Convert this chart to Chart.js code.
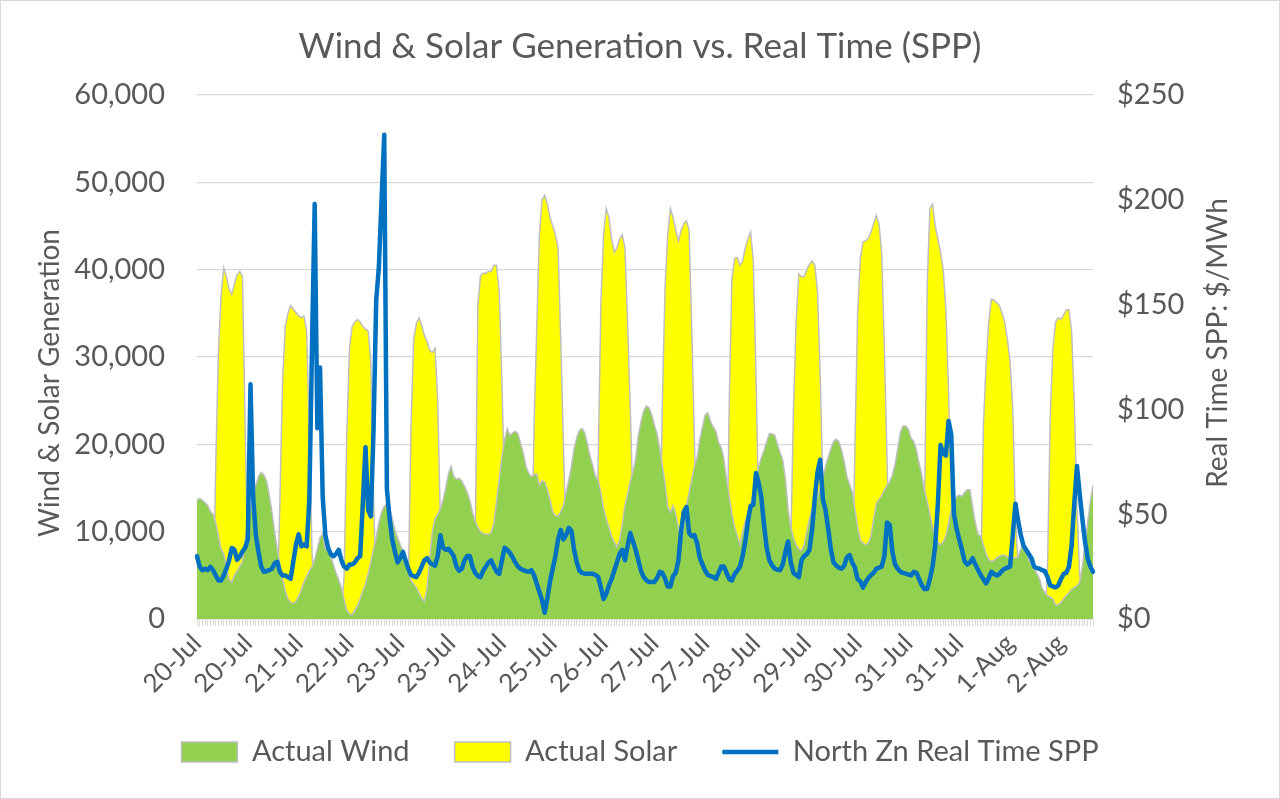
<!DOCTYPE html>
<html lang="en">
<head>
<meta charset="UTF-8">
<title>Wind &amp; Solar Generation vs. Real Time (SPP)</title>
<script src="https://cdn.jsdelivr.net/npm/chart.js@4.4.1/dist/chart.umd.min.js"></script>
<style>
  body { margin: 0; background: #fff; }
  #wrap { width: 1280px; height: 799px; }
</style>
</head>
<body>
<div id="wrap"><canvas id="chart" width="1280" height="799"></canvas></div>
<script>
// one label per day, hourly values below (24 per day)
const days = ['20-Jul', '21-Jul', '22-Jul', '23-Jul', '24-Jul', '25-Jul', '26-Jul',
              '27-Jul', '28-Jul', '29-Jul', '30-Jul', '31-Jul', '1-Aug', '2-Aug'];

// Actual Wind, MW
const windMW = [
  13600, 13800, 13600, 13300, 13000, 12300, 12000, 11000, 9500, 8000, 7500, 6000, 4500, 4200, 5000, 5500, 6000, 6500, 9000, 11000, 12500, 14000, 15300, 16300,
  16800, 16500, 15800, 14200, 12300, 10000, 8000, 6200, 4500, 3200, 2300, 1900, 1800, 2000, 2600, 3300, 4200, 4900, 5500, 6000, 6800, 8000, 9300, 9800,
  8000, 7800, 7200, 6200, 5200, 4500, 3500, 2200, 1000, 600, 500, 1000, 1500, 2300, 3200, 4000, 5200, 6500, 8000, 9300, 11000, 12200, 12900, 13200,
  12800, 11500, 10200, 9300, 8500, 7800, 7200, 5800, 4400, 4000, 3600, 3000, 2400, 2000, 3500, 7000, 10000, 11500, 12000, 12600, 13600, 15000, 16600, 17500,
  16300, 16000, 16100, 15800, 15200, 14500, 13600, 12200, 11200, 10500, 10000, 9800, 9700, 9700, 9900, 11000, 13500, 16000, 18500, 20500, 21800, 21000, 21300, 21500,
  21200, 20100, 19000, 17500, 16700, 16300, 16500, 16600, 15300, 15800, 15700, 14800, 13600, 12300, 11800, 11800, 12300, 13000, 14500, 15900, 17500, 19500, 20800, 21600,
  21800, 21300, 20000, 18600, 17500, 16300, 15900, 14500, 12600, 11500, 10500, 9500, 8800, 8300, 9000, 10800, 13000, 14300, 15800, 16800, 18300, 21000, 22600, 23800,
  24400, 24200, 23400, 22200, 21200, 19500, 17500, 15500, 12800, 12200, 13000, 12000, 10500, 9000, 10500, 13000, 14500, 16000, 17500, 18500, 20500, 22000, 23400, 23600,
  22600, 22000, 21500, 20200, 19600, 18300, 16000, 14000, 12000, 10500, 9500, 8500, 10000, 11200, 12000, 13000, 14500, 16000, 17500, 18500, 19300, 20300, 21200, 21200,
  21000, 20000, 19100, 18200, 16000, 12500, 10500, 9300, 8500, 8000, 7800, 8500, 10000, 11500, 12500, 13300, 14000, 15000, 16200, 17500, 18500, 19500, 20300, 20600,
  20300, 19300, 18000, 16300, 15400, 14500, 12500, 10500, 9000, 8700, 8500, 8700, 9500, 11500, 13200, 13700, 14100, 14800, 15300, 15700, 16500, 17700, 19500, 21400,
  22100, 22100, 21700, 20700, 20300, 19300, 17800, 16500, 14600, 13500, 12000, 10500, 9500, 8800, 8500, 8800, 9500, 11000, 12500, 13500, 14000, 14200, 14000, 14500,
  14800, 14800, 12800, 11000, 9700, 9500, 8500, 7500, 6800, 6600, 6700, 7000, 7200, 7300, 7300, 7100, 7000, 7000, 7000, 7100, 8000, 8500, 7800, 6800,
  6200, 5800, 5200, 4600, 3500, 3000, 2700, 2500, 2300, 1600, 1600, 1900, 2300, 2700, 3000, 3400, 3600, 3800, 4200, 6000, 8500, 11000, 13500, 15300
];

// Actual Solar, MW
const solarMW = [
  0, 0, 0, 0, 0, 0, 500, 17500, 30400, 37000, 40200, 39200, 37800, 37200, 38400, 39400, 39800, 39200, 22000, 6000, 1000, 0, 0, 0,
  0, 0, 0, 0, 0, 0, 1000, 13600, 27300, 33500, 35000, 35900, 35500, 35100, 34700, 34500, 34700, 33000, 21400, 7700, 2000, 0, 0, 0,
  0, 0, 0, 0, 0, 0, 500, 5000, 21000, 31000, 33500, 34000, 34300, 34000, 33500, 33200, 33000, 29500, 14000, 3000, 500, 0, 0, 0,
  0, 0, 0, 0, 0, 0, 0, 3000, 22000, 32000, 33800, 34500, 33600, 32500, 31800, 30800, 30500, 31000, 25000, 11000, 2000, 0, 0, 0,
  0, 0, 0, 0, 0, 0, 0, 0, 8000, 36000, 39300, 39600, 39600, 39800, 39800, 40500, 40500, 37500, 27000, 15000, 3000, 0, 0, 0,
  0, 0, 0, 0, 0, 3000, 22000, 33000, 44000, 48000, 48500, 47500, 46000, 45000, 44000, 42500, 32000, 20000, 8000, 1000, 0, 0, 0, 0,
  0, 0, 0, 0, 0, 5000, 18000, 36000, 44000, 47000, 46000, 43500, 42000, 42500, 43500, 44000, 42500, 34000, 24000, 13000, 4000, 0, 0, 0,
  0, 0, 0, 0, 0, 5000, 25000, 38000, 44000, 47000, 46000, 44500, 43300, 44500, 45300, 45600, 44500, 33000, 20000, 7000, 1000, 0, 0, 0,
  0, 0, 0, 0, 0, 0, 3000, 25000, 39000, 41300, 41400, 40500, 41000, 42500, 43500, 44300, 41000, 28000, 12000, 3000, 0, 0, 0, 0,
  0, 0, 0, 0, 0, 1000, 8000, 24000, 34000, 39500, 39200, 39200, 40000, 40600, 41000, 40500, 37500, 28000, 15000, 4000, 0, 0, 0, 0,
  0, 0, 0, 0, 0, 3000, 20000, 35000, 41300, 43200, 43300, 43600, 44300, 45300, 46200, 45200, 42000, 31000, 18000, 7000, 1000, 0, 0, 0,
  0, 0, 0, 0, 0, 0, 0, 2000, 12000, 38000, 47000, 47500, 45000, 43500, 42000, 40000, 35500, 26000, 15000, 5000, 0, 0, 0, 0,
  0, 0, 0, 0, 1000, 4000, 22000, 29000, 34000, 36600, 36500, 36200, 35900, 35000, 34000, 32000, 29500, 24000, 12000, 6000, 1000, 0, 0, 0,
  0, 0, 0, 0, 0, 0, 6000, 23000, 31000, 34000, 34500, 34300, 34800, 35400, 35400, 33000, 25000, 13000, 5000, 4000, 3500, 2000, 500, 0
];

// North Zn Real Time SPP, $/MWh
const priceRT = [
  30, 25, 23.3, 24, 23.3, 24.9, 23.3, 20.8, 18.4, 18.4, 20.8, 24, 28, 33.9, 33, 28.2, 29.8, 32.2, 34, 38, 112, 58, 40, 32,
  25, 22.5, 22.8, 23.3, 24, 26.5, 27.3, 22.5, 20.8, 20.8, 20, 19.2, 27.3, 35.5, 40.4, 34.7, 35.5, 34.7, 56.6, 130, 198, 91, 120, 58,
  40, 34, 31, 30, 31, 33, 28, 25, 24, 26, 26, 27, 29, 30, 55, 82, 52, 49, 90, 152, 168, 200, 231, 62,
  48, 38, 32, 27, 29, 32, 28, 24, 21, 20.5, 20, 22, 25, 28, 29, 27, 26, 25.5, 30, 40, 34, 33, 33.5, 32,
  30, 25, 23, 24, 28, 30, 30, 25, 22, 20.5, 20, 23, 25, 27, 28, 25, 22.5, 21.5, 28, 34, 33, 31.5, 29.5, 27,
  25, 24, 23.3, 22.8, 22.5, 23.3, 21, 17, 13, 9, 3, 10, 18, 24, 30, 38, 42.5, 38, 40, 43.5, 42, 33, 27, 23,
  22, 21.6, 21.6, 21.6, 21.6, 21, 20, 15, 9.5, 12, 16, 19, 23, 27, 31, 33, 28, 35, 41, 37, 33, 28, 23, 20,
  18.5, 17.6, 17.6, 17.6, 19.5, 22.5, 22, 19.2, 15.5, 15.5, 20.5, 22, 28, 42, 51, 53.4, 41, 39.5, 40, 36, 29, 26, 23, 21,
  20.5, 20, 19.2, 22, 25, 25, 22, 19, 18.4, 21.5, 23, 25, 30, 37, 47, 54, 54.5, 69.7, 65, 58, 45, 34, 28, 25.7,
  24, 23.5, 23.3, 26, 32, 37, 27, 22, 21, 20, 28, 30, 31, 33, 43, 58, 70, 76, 57, 52, 43, 33, 27, 25.5,
  24.5, 24, 25.5, 29.5, 30.5, 27, 24.5, 19, 18, 15, 17.5, 19.5, 21, 22, 24, 24.5, 25, 30, 46, 45, 32, 26, 24, 22.5,
  22, 21.6, 21.2, 20.8, 22.5, 22, 19, 16, 14.3, 14.3, 19, 25, 35, 55, 83, 79, 78, 94.5, 88, 50, 43, 38, 33, 27.5,
  26, 27, 29, 26, 23.5, 21, 19, 17, 19.5, 22.5, 21.5, 20.8, 21.5, 23, 24, 24.5, 25, 40, 55, 47, 40, 35, 33, 31,
  29, 25, 24.3, 24, 23.3, 22.8, 20, 16, 15.5, 15.1, 16, 19, 21.5, 22, 25, 35, 55, 73, 60, 48, 37, 29, 25, 22.5
];

const labelEvery = 19;   // Excel shows every 19th hour
const FONT = 'Lato, "Open Sans", sans-serif';
const GREY_TEXT = '#595959';

const hourLabels = [];
days.forEach(d => { for (let h = 0; h < 24; h++) hourLabels.push(d); });

// white background, outer border, and the two axis titles (Excel style, both bottom-to-top)
const frame = {
  id: 'frame',
  beforeDraw(chart) {
    const c = chart.ctx;
    c.save();
    c.fillStyle = '#fff';
    c.fillRect(0, 0, chart.width, chart.height);
    c.restore();
  },
  afterDraw(chart) {
    const c = chart.ctx;
    c.save();
    c.strokeStyle = '#d9d9d9';
    c.lineWidth = 1;
    c.strokeRect(0.5, 0.5, chart.width - 1, chart.height - 1);

    c.fillStyle = GREY_TEXT;
    c.font = '28px ' + FONT;
    c.textAlign = 'center';
    c.textBaseline = 'middle';
    c.save();
    c.translate(50, 383);
    c.rotate(-Math.PI / 2);
    c.fillText('Wind & Solar Generation', 0, 0);
    c.restore();
    c.save();
    c.translate(1218, 343);
    c.rotate(-Math.PI / 2);
    c.fillText('Real Time SPP: $/MWh', 0, 0);
    c.restore();
    c.restore();
  }
};

new Chart(document.getElementById('chart'), {
  type: 'line',
  data: {
    labels: hourLabels,
    datasets: [
      {
        label: 'Actual Wind',
        data: windMW,
        yAxisID: 'y',
        order: 1,
        fill: 'origin',
        backgroundColor: '#92D050',
        borderColor: '#BFBFBF',
        borderWidth: 1.5,
        pointRadius: 0,
        pointStyle: 'rect',
        tension: 0
      },
      {
        label: 'Actual Solar',
        data: solarMW,
        yAxisID: 'y',
        order: 2,
        fill: 'origin',
        backgroundColor: '#FFFF00',
        borderColor: '#BFBFBF',
        borderWidth: 1.5,
        pointRadius: 0,
        pointStyle: 'rect',
        tension: 0
      },
      {
        label: 'North Zn Real Time SPP',
        data: priceRT,
        yAxisID: 'y1',
        order: 0,
        fill: false,
        borderColor: '#0070C0',
        backgroundColor: '#0070C0',
        borderWidth: 4.5,
        borderJoinStyle: 'round',
        borderCapStyle: 'round',
        pointRadius: 0,
        pointStyle: 'line',
        tension: 0
      }
    ]
  },
  options: {
    responsive: false,
    animation: false,
    devicePixelRatio: 1,
    layout: {
      padding: { left: 0, right: 0, top: 0, bottom: 22.5 }
    },
    plugins: {
      title: {
        display: true,
        text: 'Wind & Solar Generation vs. Real Time (SPP)',
        color: GREY_TEXT,
        font: { family: FONT, size: 35, weight: 'normal', lineHeight: 1.2 },
        padding: { top: 26, bottom: 27 }
      },
      legend: {
        position: 'bottom',
        labels: {
          usePointStyle: true,
          pointStyleWidth: 56,
          boxHeight: 20,
          padding: 45,
          color: GREY_TEXT,
          font: { family: FONT, size: 29 },
          sort: (a, b) => a.datasetIndex - b.datasetIndex
        }
      },
      tooltip: { enabled: false }
    },
    scales: {
      x: {
        offset: false,
        grid: {
          display: true,
          drawOnChartArea: false,
          drawTicks: true,
          tickLength: 7,
          color: '#d9d9d9'
        },
        border: { display: true, color: '#d9d9d9', width: 1.5 },
        ticks: {
          autoSkip: false,
          minRotation: 45,
          maxRotation: 45,
          padding: 2,
          color: GREY_TEXT,
          font: { family: FONT, size: 26 },
          callback: (v, i) => (i % labelEvery === 0 ? hourLabels[i] : '')
        },
        afterFit: s => { s.height = 73.5; }
      },
      y: {
        position: 'left',
        min: 0,
        max: 60000,
        grid: { color: '#d9d9d9', lineWidth: 1.3, drawTicks: false },
        border: { display: false },
        ticks: {
          stepSize: 10000,
          padding: 32,
          color: GREY_TEXT,
          font: { family: FONT, size: 29 },
          callback: v => v.toLocaleString('en-US')
        },
        afterFit: s => { s.width = 197; }
      },
      y1: {
        position: 'right',
        min: 0,
        max: 250,
        grid: { drawOnChartArea: false, drawTicks: false },
        border: { display: false },
        ticks: {
          stepSize: 50,
          padding: 24,
          color: GREY_TEXT,
          font: { family: FONT, size: 29 },
          callback: v => '$' + v
        },
        afterFit: s => { s.width = 187; }
      }
    }
  },
  plugins: [frame]
});
</script>
</body>
</html>
